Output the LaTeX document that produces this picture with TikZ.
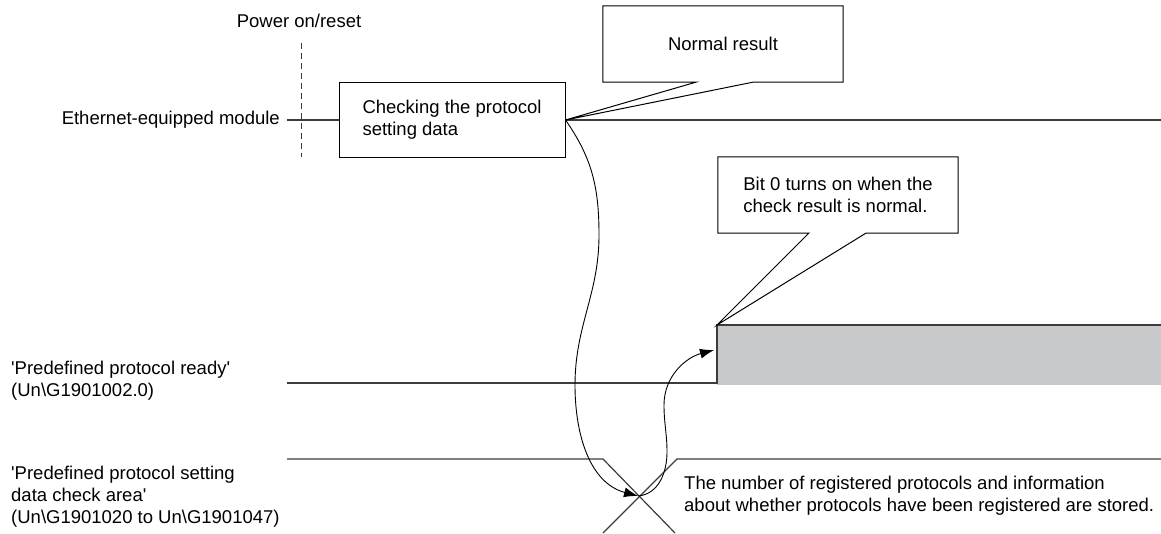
\documentclass[tikz,border=0pt]{standalone}
\usepackage{fontspec}
\setmainfont{Liberation Sans}
\usetikzlibrary{arrows.meta,positioning}
\definecolor{sigline}{RGB}{60,60,60}
\definecolor{onfill}{RGB}{200,201,203}
\tikzset{
  lbl/.style={font=\fontsize{18.5}{22}\selectfont, align=left, inner sep=0pt},
  msgbox/.style={lbl, minimum width=240pt, minimum height=76pt},
  callout/.style={draw=black, line width=1pt},
  sig/.style={draw=sigline, line width=1.6pt},
  flow/.style={draw=black, line width=0.9pt, -{Latex[length=14pt,width=10pt]}},
}
\newcommand{\q}{\textquotesingle}

\begin{document}
\begin{tikzpicture}[x=1pt,y=-1pt]
      \useasboundingbox (0,0) rectangle (1161,533);

      % labels on the left
      \node[lbl]  (pwr)   at (299,21)                  {Power on/reset};
      \node[lbl, anchor=east] (eth)   at (280,120)     {Ethernet-equipped module};
      \node[lbl, anchor=west] (ready) at (11,381)      {\q Predefined protocol ready\q\\(Un\textbackslash G1901002.0)};
      \node[lbl, anchor=west] (area)  at (11,497)      {\q Predefined protocol setting\\data check area\q\\(Un\textbackslash G1901020 to Un\textbackslash G1901047)};

      % check box and the two callouts
      \node[lbl, draw=black, line width=1pt, minimum width=226pt,
            minimum height=75pt] (chk) at (452,120)
            {Checking the protocol\\setting data};
      \node[msgbox] (normal) at (723,44)  {Normal result};
      \node[msgbox] (bitzero) at (838,195)
            {Bit 0 turns on when the\\check result is normal.};

      \coordinate (pwrtop) at (301,43);
      \coordinate (pwrbot) at (301,157);
      \coordinate (ethend) at (1161,120);
      \coordinate (rdyst)  at (287,383);
      \coordinate (rdyup)  at (717,383);
      \coordinate (rdytop) at (717,325);
      \coordinate (rdyend) at (1161,325);
      \coordinate (arst)   at (287,459);
      \coordinate (xa)     at (603,459);
      \coordinate (xb)     at (677,459);
      \coordinate (xc)     at (603,533);
      \coordinate (xd)     at (675,533);
      \coordinate (arend)  at (1161,459);
      \coordinate (xmid)   at (638,496);

      \draw[sigline, line width=1pt, dash pattern=on 6pt off 4pt] (pwrtop) -- (pwrbot);
      \draw[sig] ([xshift=7pt]eth.east) -- (chk.west);
      \draw[sig] (chk.east) -- (ethend);

      \draw[callout] (normal.south west) -- ([xshift=93pt]normal.south west) -- (chk.east)
            -- ([xshift=150pt]normal.south west) -- (normal.south east)
            -- (normal.north east) -- (normal.north west) -- cycle;

      % ready signal
      \fill[onfill] (rdytop) rectangle (1161,385);
      \draw[sig] (rdyst) -- (rdyup) -- (rdytop) -- (rdyend);
      \draw[callout] (bitzero.south west) -- ([xshift=91pt]bitzero.south west) -- (rdytop)
            -- ([xshift=148pt]bitzero.south west) -- (bitzero.south east)
            -- (bitzero.north east) -- (bitzero.north west) -- cycle;

      % check area
      \draw[sig, line width=1.2pt] (arst) -- (xa) -- (xd);
      \draw[sig, line width=1.2pt] (xc) -- (xb) -- (arend);
      \node[lbl, anchor=north west] (stored) at (684,476)
            {The number of registered protocols and information\\about whether protocols have been registered are stored.};

      \draw[flow] (chk.east) to[out=-55,in=90] (599,235) to[out=-90,in=90] (575,385)
            to[out=-90,in=165] (xmid);
      \draw[flow] (xmid) to[out=5,in=-90] (667,452) to[out=90,in=-90] (664,405)
            to[out=90,in=195] ([xshift=-3pt,yshift=-25pt]rdytop);
\end{tikzpicture}
\end{document}
